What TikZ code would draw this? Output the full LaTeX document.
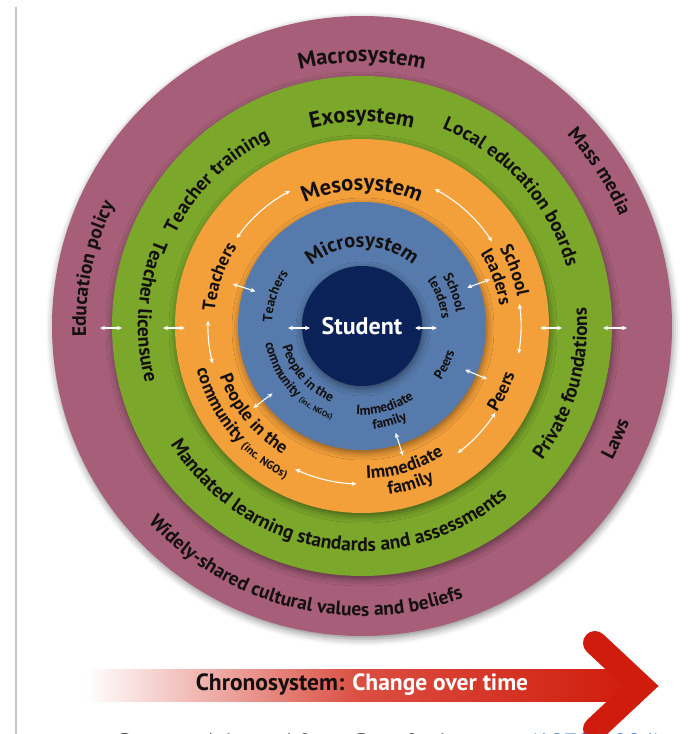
\documentclass[tikz,border=0pt]{standalone}
\usepackage{fontspec}
\setmainfont{PT Sans}
\usetikzlibrary{arrows.meta,decorations.text,shadows.blur}

\definecolor{macro}{RGB}{166,94,121}
\definecolor{exo}{RGB}{123,167,43}
\definecolor{meso}{RGB}{244,160,58}
\definecolor{micro}{RGB}{86,122,171}
\definecolor{student}{RGB}{11,34,88}
\definecolor{ink}{RGB}{20,16,16}
\definecolor{chrono}{RGB}{208,28,12}
\definecolor{linkblue}{RGB}{40,110,200}

\newcommand{\sysfont}{\fontsize{22.5}{22.5}\selectfont\bfseries\color{ink}}
\newcommand{\microfont}{\fontsize{20.5}{20.5}\selectfont\bfseries\color{ink}}
\newcommand{\outerfont}{\fontsize{19.5}{19.5}\selectfont\bfseries\color{ink}}
\newcommand{\midfont}{\fontsize{18}{18}\selectfont\bfseries\color{ink}}
\newcommand{\innerfont}{\fontsize{13.5}{13.5}\selectfont\bfseries\color{ink}}
\newcommand{\ngofont}{\fontsize{11.5}{11.5}\selectfont\bfseries\color{ink}}
\newcommand{\smallngofont}{\fontsize{8}{8}\selectfont\bfseries\color{ink}}

\begin{document}
\begin{tikzpicture}[x=1pt, y=1pt,
    link/.style={white, line width=1.1pt, {Stealth[length=5pt,width=4.5pt]}-{Stealth[length=5pt,width=4.5pt]}},
    ring/.style={blur shadow={shadow xshift=1pt, shadow yshift=-3pt, shadow blur radius=7pt, shadow opacity=45}},
    along/.style={decorate, decoration={text along path, text align=center, text={#1}}}]

    \useasboundingbox (-362,-408) rectangle (332,326);
    \clip (-362,-408) rectangle (332,326);

    % Rings
    \coordinate (C) at (0,0);
    \fill[macro, ring] (C) circle (310);
    \fill[exo, ring] (C) circle (250);
    \fill[meso, ring] (C) circle (187);
    \fill[micro, ring] (C) circle (124);
    \fill[student, ring] (C) circle (60);
    \node[white, font=\fontsize{24}{24}\selectfont\bfseries] (student) at (C) {Student};

    % Macrosystem
    \path[along={|\sysfont|Macrosystem}] (160:264) arc[start angle=160, end angle=20, radius=264];
    \path[along={|\outerfont|Mass media}] (93:280) arc[start angle=93, end angle=-27, radius=280];
    \path[along={|\outerfont|Education policy}] (228:276) arc[start angle=228, end angle=108, radius=276];
    \path[along={|\outerfont|Laws}] (-84:284) arc[start angle=-84, end angle=36, radius=284];
    \path[along={|\outerfont|Widely-shared cultural values and beliefs}] (181.5:290) arc[start angle=181.5, end angle=331.5, radius=290];

    % Exosystem
    \path[along={|\sysfont|Exosystem}] (170:204) arc[start angle=170, end angle=10, radius=204];
    \path[along={|\outerfont|Teacher training}] (205:208) arc[start angle=205, end angle=65, radius=208];
    \path[along={|\outerfont|Local education boards}] (122:213) arc[start angle=122, end angle=-38, radius=213];
    \path[along={|\outerfont|Teacher licensure}] (106:224) arc[start angle=106, end angle=246, radius=224];
    \path[along={|\outerfont|Private foundations}] (-96:225) arc[start angle=-96, end angle=64, radius=225];
    \path[along={|\outerfont|Mandated learning standards and assessments}] (171:225) arc[start angle=171, end angle=351, radius=225];

    % Mesosystem
    \path[along={|\sysfont|Mesosystem}] (170:136) arc[start angle=170, end angle=10, radius=136];
    \path[along={|\midfont|Teachers}] (221:148) arc[start angle=221, end angle=101, radius=148];
    \path[along={|\midfont|School}] (80:158) arc[start angle=80, end angle=-40, radius=158];
    \path[along={|\midfont|leaders}] (80:139) arc[start angle=80, end angle=-40, radius=139];
    \path[along={|\midfont|Peers}] (-85:160) arc[start angle=-85, end angle=35, radius=160];
    \path[along={|\midfont|Immediate}] (-133:153) arc[start angle=-133, end angle=-13, radius=153];
    \path[along={|\midfont|family}] (-133:171) arc[start angle=-133, end angle=-13, radius=171];
    \path[along={|\midfont|People in the}] (159:151) arc[start angle=159, end angle=279, radius=151];
    \path[along={|\midfont|community |\ngofont|(inc. NGOs)}] (159:171) arc[start angle=159, end angle=279, radius=171];

    % Microsystem
    \path[along={|\microfont|Microsystem}] (170:79) arc[start angle=170, end angle=10, radius=79];
    \path[along={|\innerfont|Teachers}] (221:90) arc[start angle=221, end angle=101, radius=90];
    \path[along={|\innerfont|School}] (80:95) arc[start angle=80, end angle=-40, radius=95];
    \path[along={|\innerfont|leaders}] (80:80) arc[start angle=80, end angle=-40, radius=80];
    \path[along={|\innerfont|Peers}] (-85:96) arc[start angle=-85, end angle=35, radius=96];
    \path[along={|\innerfont|Immediate}] (-134:89) arc[start angle=-134, end angle=-14, radius=89];
    \path[along={|\innerfont|family}] (-134:104) arc[start angle=-134, end angle=-14, radius=104];
    \path[along={|\innerfont|People in the}] (161:82) arc[start angle=161, end angle=281, radius=82];
    \path[along={|\innerfont|community |\smallngofont|(inc. NGOs)}] (161:98) arc[start angle=161, end angle=281, radius=98];

    % Links across the rings
    \draw[link] (-262,-2) -- (-240,-2);
    \draw[link] (-199,-2) -- (-177,-2);
    \draw[link] (178,-2) -- (200,-2);
    \draw[link] (241,-2) -- (265,-2);
    \draw[link] (-74,-2) -- (-52,-2);
    \draw[link] (53,-2) -- (75,-2);
    \foreach \a in {162,20,-23,-72.5,217}
        \draw[link] (\a:112) -- (\a:136);

    % Links inside the mesosystem
    \draw[link] (118:153) arc[start angle=118, end angle=145, radius=153];
    \draw[link] (62:155) arc[start angle=62, end angle=33, radius=155];
    \draw[link] (8:159) arc[start angle=8, end angle=-10, radius=159];
    \draw[link] (-33:159) arc[start angle=-33, end angle=-53, radius=159];
    \draw[link] (-92:158) arc[start angle=-92, end angle=-115, radius=158];
    \draw[link] (178:154) arc[start angle=178, end angle=194, radius=154];

    % Chronosystem
    \shade[left color=white, right color=chrono, middle color=chrono!78] (-276,-343) rectangle (272,-375);
    \draw[chrono, line width=24pt, line join=miter, line cap=round] (233,-317) -- (279,-360) -- (233,-403);
    \node[font=\fontsize{23.5}{23.5}\selectfont\bfseries] (chronolabel) at (0,-359) {\textcolor{ink}{Chronosystem:} \textcolor{white}{Change over time}};

    % Source line
    \node[anchor=base west, font=\fontsize{25}{25}\selectfont, text=ink, inner sep=0pt] (source) at (-245,-425) {Source: Adapted from Bronfenbrenner \textcolor{linkblue}{(1979/1994)}};
    \draw[gray!45, line width=1.3pt] (-346,319) -- (-346,-408);

\end{tikzpicture}
\end{document}
